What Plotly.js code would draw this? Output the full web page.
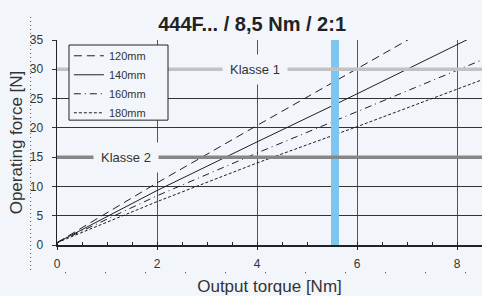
<!DOCTYPE html>
<html>
<head>
<meta charset="utf-8">
<script src="https://cdn.plot.ly/plotly-3.0.1.min.js"></script>
<style>html,body{margin:0;padding:0;background:#f2f6fb;}#chart{width:482px;height:296px;}</style>
</head>
<body>
<div id="chart"></div>
<script>
// Data
const torque = [0, 2, 4, 6, 8, 8.5];           // Output torque [Nm]
const force120 = [0.4, 10.6, 20.4, 30.1, 39.8, 42.2];
const force140 = [0.4, 9.3, 17.6, 25.8, 34.2, 36.3];
const force160 = [0.4, 8.4, 15.7, 22.8, 29.9, 31.6];
const force180 = [0.4, 7.4, 14.0, 20.2, 26.6, 28.2];
const seriesNames = ['120mm', '140mm', '160mm', '180mm'];
const klasse1 = 30;      // Operating force [N]
const klasse2 = 15;
const markerTorque = 5.56;
const xTicks = [0, 2, 4, 6, 8];
const yTicks = [0, 5, 10, 15, 20, 25, 30, 35];

const bg = '#f2f6fb';
const font = 'Liberation Sans, Arial, sans-serif';
const lineColor = '#1e1e1e';
const dashes = ['8px,5px', 'solid', '7px,4px,1px,4px', '3px,2px'];
const ys = [force120, force140, force160, force180];

const traces = ys.map((y, i) => ({
  type: 'scatter', mode: 'lines', x: torque, y: y, name: seriesNames[i],
  line: {color: lineColor, width: 1, dash: dashes[i]}
}));

const layout = {
  width: 482, height: 296,
  margin: {l: 57, r: 0, t: 40, b: 51, pad: 0},
  paper_bgcolor: bg, plot_bgcolor: bg,
  font: {family: font, color: '#333', size: 12},
  title: {text: '<b>444F... / 8,5 Nm / 2:1</b>', font: {family: font, size: 20, color: '#222'},
          xref: 'container', x: 0.523, xanchor: 'center', yref: 'container', y: 0.919, yanchor: 'middle'},
  showlegend: true,
  legend: {x: 0.028, y: 0.784, xanchor: 'left', yanchor: 'middle', bgcolor: 'rgba(0,0,0,0)', borderwidth: 0,
           font: {family: font, size: 11, color: '#333'}, tracegroupgap: 0},
  xaxis: {range: [0, 8.5], tickvals: xTicks, ticktext: xTicks.map(String), showgrid: true, gridcolor: '#555', gridwidth: 1,
          zeroline: false, showline: true, linecolor: '#222', linewidth: 1.5, mirror: false,
          ticks: 'outside', ticklen: 3, tickcolor: '#222', ticklabelstandoff: 4,
          minor: {dtick: 0.5, tick0: 0, ticks: 'inside', ticklen: 3, tickcolor: '#222', showgrid: false},
          title: {text: 'Output torque [Nm]', font: {family: font, size: 17, color: '#333'}, standoff: 10},
          fixedrange: true},
  yaxis: {range: [0, 35], tickvals: yTicks, ticktext: yTicks.map(String), showgrid: true, gridcolor: '#333', gridwidth: 1,
          zeroline: false, showline: true, linecolor: '#222', linewidth: 1.5,
          ticks: 'outside', ticklen: 4, tickcolor: '#333', ticklabelstandoff: 6,
          title: {text: 'Operating force [N]', font: {family: font, size: 17, color: '#333'}, standoff: 3},
          fixedrange: true},
  shapes: [
    {type: 'line', xref: 'x', yref: 'y', x0: markerTorque, x1: markerTorque, y0: 0, y1: 35,
     line: {color: '#7cc6ef', width: 8}, layer: 'above'},
    {type: 'line', xref: 'paper', yref: 'y', x0: 0, x1: 1, y0: klasse1, y1: klasse1,
     line: {color: '#c2c2c2', width: 3.5}, layer: 'above'},
    {type: 'line', xref: 'paper', yref: 'y', x0: 0, x1: 1, y0: klasse2, y1: klasse2,
     line: {color: '#878787', width: 3.5}, layer: 'above'},
    {type: 'rect', xref: 'paper', yref: 'paper', x0: 0.0282, x1: 0.2612, y0: 0.609, y1: 0.9756,
     fillcolor: bg, line: {color: '#222', width: 1}, layer: 'above'},
    {type: 'line', xref: 'paper', yref: 'paper', x0: -0.062, x1: -0.062, y0: 1.1125, y1: -0.1345,
     line: {color: '#555', width: 1, dash: '1px,3px'}, layer: 'above'},
    {type: 'line', xref: 'paper', yref: 'paper', x0: 0.0188, x1: 1, y0: -0.1345, y1: -0.1345,
     line: {color: '#555', width: 1.2, dash: '1px,39px'}, layer: 'above'}
  ],
  annotations: [
    {text: 'Klasse 1', xref: 'x', yref: 'y', x: 3.95, y: klasse1, showarrow: false, bgcolor: bg,
     borderpad: 7, font: {family: font, size: 13, color: '#333'}},
    {text: 'Klasse 2', xref: 'x', yref: 'y', x: 1.37, y: klasse2, showarrow: false, bgcolor: bg,
     borderpad: 7, font: {family: font, size: 13, color: '#333'}}
  ]
};

Plotly.newPlot('chart', traces, layout, {staticPlot: true, displayModeBar: false});
</script>
</body>
</html>
